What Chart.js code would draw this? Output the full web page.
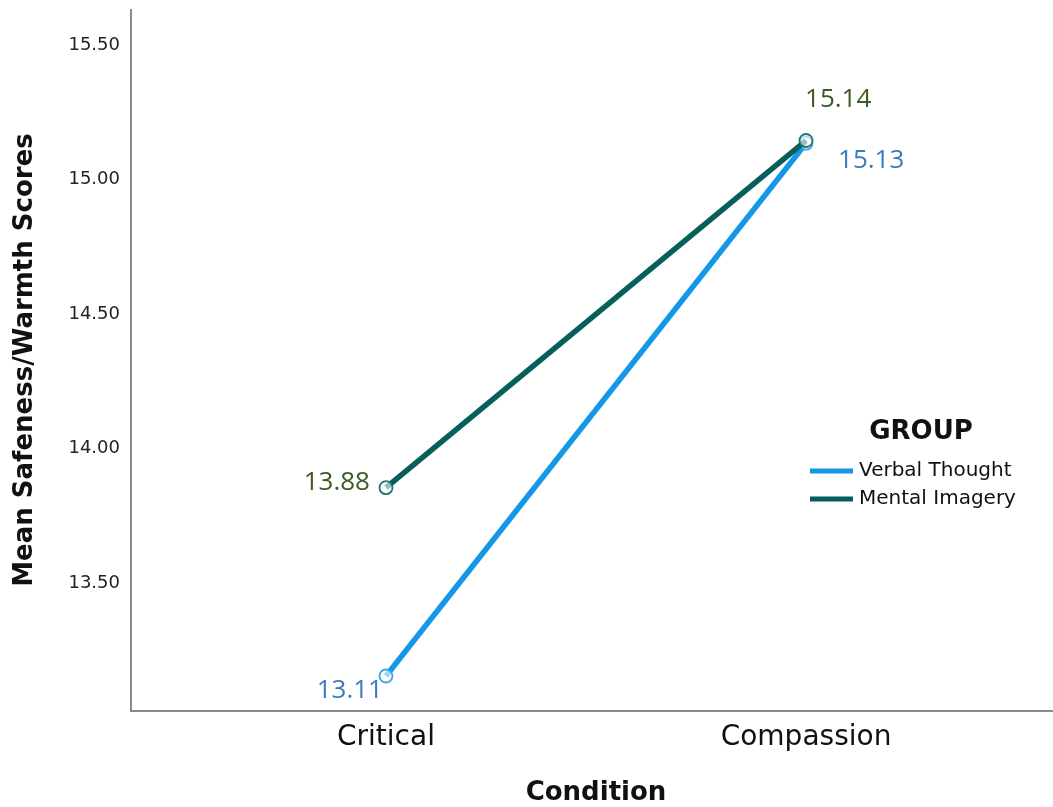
<!DOCTYPE html>
<html>
<head>
<meta charset="utf-8">
<script src="https://cdn.jsdelivr.net/npm/chart.js@4"></script>
<style>
  html, body { margin: 0; padding: 0; background: #ffffff; }
  #wrap { width: 1053px; height: 807px; }
</style>
</head>
<body>
<div id="wrap"><canvas id="c" width="1053" height="807"></canvas></div>
<script>
const categories = ['Critical', 'Compassion'];
const seriesNames = ['Verbal Thought', 'Mental Imagery'];
const verbalThought = [13.155, 15.135];
const mentalImagery = [13.855, 15.145];
const verbalLabels = ['13.11', '15.13'];
const mentalLabels = ['13.88', '15.14'];
const yTicks = [13.5, 14.0, 14.5, 15.0, 15.5];
const yTitle = 'Mean Safeness/Warmth Scores';
const xTitle = 'Condition';
const legendTitle = 'GROUP';

const BLUE = '#1597e8';
const TEAL = '#065f5a';
const BLUE_TXT = '#3a7bbf';
const GREEN_TXT = '#3c5a23';

function toPoints(arr) { return arr.map((v, i) => ({ x: i, y: v })); }

const overlay = {
  id: 'overlay',
  afterDatasetsDraw(chart) {
    const ctx = chart.ctx;
    const xs = chart.scales.x, ys = chart.scales.y;
    ctx.save();
    // data labels
    ctx.font = '26px "Open Sans"';
    ctx.textBaseline = 'middle';
    const lab = (text, color, i, val, dx, dy, align) => {
      ctx.fillStyle = color;
      ctx.textAlign = align;
      ctx.fillText(text, xs.getPixelForValue(i) + dx, ys.getPixelForValue(val) + dy);
    };
    lab(mentalLabels[0], GREEN_TXT, 0, mentalImagery[0], -16, -5, 'right');
    lab(verbalLabels[0], BLUE_TXT, 0, verbalThought[0], -3, 15, 'right');
    lab(mentalLabels[1], GREEN_TXT, 1, mentalImagery[1], -1, -41, 'left');
    lab(verbalLabels[1], BLUE_TXT, 1, verbalThought[1], 32, 17, 'left');

    // legend
    ctx.fillStyle = '#111';
    ctx.font = 'bold 26px "DejaVu Sans"';
    ctx.textAlign = 'center';
    ctx.fillText(legendTitle, 921, 432);
    ctx.font = '20px "DejaVu Sans"';
    ctx.textAlign = 'left';
    const cols = [BLUE, TEAL];
    const ly = [471, 499];
    for (let k = 0; k < 2; k++) {
      ctx.strokeStyle = cols[k];
      ctx.lineWidth = 5;
      ctx.beginPath();
      ctx.moveTo(810, ly[k]);
      ctx.lineTo(853, ly[k]);
      ctx.stroke();
      ctx.fillStyle = '#111';
      ctx.fillText(seriesNames[k], 859, ly[k]);
    }

    // axis titles
    ctx.font = 'bold 26px "DejaVu Sans"';
    ctx.textAlign = 'center';
    ctx.fillStyle = '#111';
    ctx.fillText(xTitle, 596, 793);
    ctx.translate(25, 360);
    ctx.rotate(-Math.PI / 2);
    ctx.fillText(yTitle, 0, 0);
    ctx.restore();
  }
};

new Chart(document.getElementById('c'), {
  type: 'line',
  data: {
    datasets: [
      {
        label: seriesNames[0],
        data: toPoints(verbalThought),
        borderColor: BLUE,
        borderWidth: 5.5,
        pointRadius: 6.5,
        pointBorderWidth: 1.8,
        pointBorderColor: '#3aa4ea',
        pointBackgroundColor: 'rgba(255,255,255,0.6)',
        order: 1
      },
      {
        label: seriesNames[1],
        data: toPoints(mentalImagery),
        borderColor: TEAL,
        borderWidth: 5.5,
        pointRadius: 6.5,
        pointBorderWidth: 1.8,
        pointBorderColor: '#217570',
        pointBackgroundColor: 'rgba(255,255,255,0.6)',
        order: 0
      }
    ]
  },
  options: {
    responsive: false,
    animation: false,
    layout: { autoPadding: false, padding: { left: 0, right: 0, top: 10, bottom: 0 } },
    plugins: {
      legend: { display: false },
      tooltip: { enabled: false }
    },
    scales: {
      x: {
        type: 'linear',
        min: -0.607,
        max: 1.588,
        afterFit(s) { s.height = 96; s.paddingLeft = 0; s.paddingRight = 0; },
        afterBuildTicks(s) { s.ticks = categories.map((c, i) => ({ value: i })); },
        grid: { display: false, drawTicks: false },
        border: { display: true, color: '#8a8a8a', width: 2 },
        ticks: {
          padding: 10,
          color: '#111',
          font: { family: 'DejaVu Sans', size: 28 },
          callback: (v) => categories[v] ?? ''
        }
      },
      y: {
        min: 13.025,
        max: 15.63,
        afterFit(s) { s.width = 131; s.paddingTop = 0; s.paddingBottom = 0; },
        afterBuildTicks(s) { s.ticks = yTicks.map(v => ({ value: v })); },
        grid: { display: false, drawTicks: false },
        border: { display: true, color: '#8a8a8a', width: 2 },
        ticks: {
          padding: 11,
          color: '#222',
          font: { family: 'DejaVu Sans', size: 18 },
          callback: (v) => Number(v).toFixed(2)
        }
      }
    }
  },
  plugins: [overlay]
});
</script>
</body>
</html>
